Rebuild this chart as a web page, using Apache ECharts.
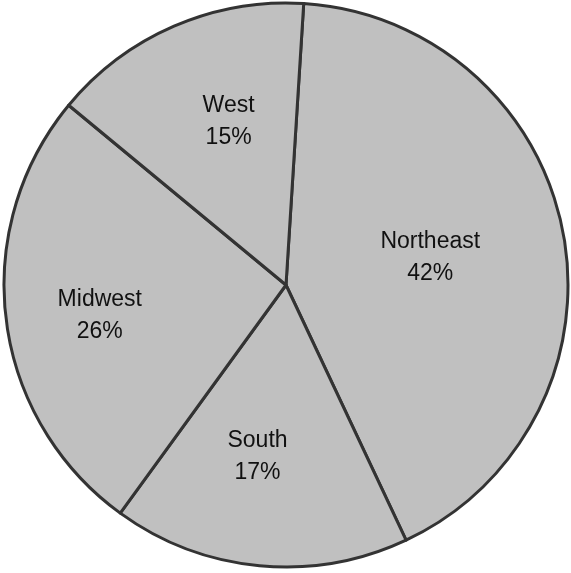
<!DOCTYPE html>
<html>
<head>
    <meta charset="utf-8">
    <title>Pie by region</title>
    <script src="https://cdn.jsdelivr.net/npm/echarts@6/dist/echarts.min.js"></script>
    <style type="text/css">
        html, body { margin: 0; padding: 0; background: #fff; }
        #main { width: 571px; height: 573px; }
    </style>
</head>
<body>
<div id="main"></div>
<script>
    // data (clockwise from the top)
    var regions = ['Northeast', 'South', 'Midwest', 'West'];
    var shares = [42, 17, 26, 15];

    // label placement: push outward (x half radius) and turn (deg, clockwise)
    var labelPush = [1.02, 1.21, 1.31, 1.2];
    var labelTurn = [0, 4, -2, 4];

    var cx = 286, cy = 285;

    var chart = echarts.init(document.getElementById('main'));

    var option = {
        animation: false,
        series: [{
            type: 'pie',
            center: [cx, cy],
            radius: [0, 282],
            startAngle: 86.4,
            clockwise: true,
            avoidLabelOverlap: false,
            itemStyle: {
                color: '#c0c0c0',
                borderColor: '#333333',
                borderWidth: 3
            },
            emphasis: { disabled: true },
            label: {
                show: true,
                position: 'inside',
                formatter: function (p) { return p.name + '\n' + p.value + '%'; },
                fontFamily: '"Liberation Sans", Arial, sans-serif',
                fontSize: 23,
                lineHeight: 32,
                color: '#111111'
            },
            labelLine: { show: false },
            labelLayout: function (params) {
                var r = params.labelRect;
                var i = params.dataIndex;
                var vx = (r.x + r.width / 2 - cx) * labelPush[i];
                var vy = (r.y + r.height / 2 - cy) * labelPush[i];
                var a = labelTurn[i] * Math.PI / 180;
                var nx = vx * Math.cos(a) - vy * Math.sin(a);
                var ny = vx * Math.sin(a) + vy * Math.cos(a);
                return {
                    dx: nx - (r.x + r.width / 2 - cx),
                    dy: ny - (r.y + r.height / 2 - cy)
                };
            },
            data: regions.map(function (n, i) {
                return { name: n, value: shares[i] };
            })
        }]
    };
    chart.setOption(option);
</script>
</body>
</html>
